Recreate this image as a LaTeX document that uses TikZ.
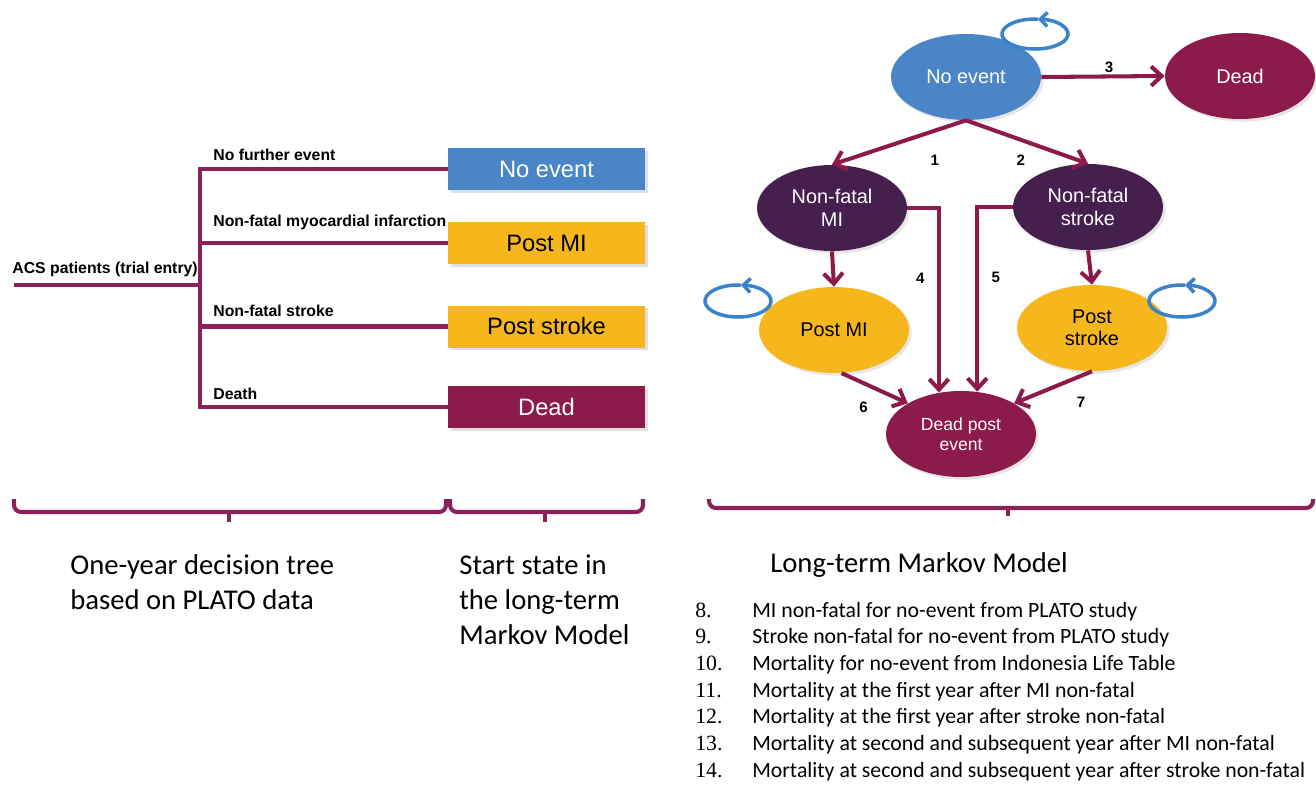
\documentclass[tikz,border=0pt]{standalone}
\usepackage{fontspec}
\setmainfont{Liberation Sans}
\newfontfamily\capfont{Carlito}
\newfontfamily\numfont{Liberation Serif}
\usetikzlibrary{arrows.meta,positioning,shapes.geometric,shadows}

\definecolor{maroon}{RGB}{140,26,75}
\definecolor{treeline}{RGB}{139,33,88}
\definecolor{stateblue}{RGB}{74,134,199}
\definecolor{stateyellow}{RGB}{245,183,28}
\definecolor{statepurple}{RGB}{69,32,79}
\definecolor{loopblue}{RGB}{59,130,200}

\tikzset{
  treeline/.style={draw=treeline, line width=2.4pt},
  startbox/.style={rectangle, minimum width=3.94cm, minimum height=0.84cm, inner sep=0pt,
    font=\fontsize{13.5}{16}\selectfont,
    drop shadow={shadow xshift=1.5pt, shadow yshift=-1.5pt, opacity=0.25}},
  branchlabel/.style={anchor=base west, inner sep=0pt, font=\bfseries\fontsize{9}{11}\selectfont},
  markovstate/.style={ellipse, minimum width=3cm, minimum height=1.72cm, inner sep=0pt, align=center,
    font=\fontsize{11.3}{12.8}\selectfont,
    drop shadow={shadow xshift=1.5pt, shadow yshift=-1.5pt, opacity=0.2}},
  arr/.style={draw=maroon, line width=2.3pt, -{Straight Barb[length=6pt,width=11pt]}},
  loopline/.style={draw=loopblue, line width=2pt, -{Straight Barb[length=4pt,width=8pt]}},
  numlabel/.style={font=\bfseries\fontsize{8.6}{9}\selectfont, inner sep=1pt},
  groupbrace/.style={draw=treeline, line width=2.3pt, rounded corners=4pt},
  captext/.style={inner sep=0pt, align=left, font=\capfont\fontsize{16.3}{20}\selectfont},
}

\begin{document}
\begin{tikzpicture}[x=0.02cm, y=-0.02cm]
    \useasboundingbox (0,0) rectangle (1316,785);

    % one-year decision tree
    \coordinate (root) at (14,285);
    \coordinate (fork) at (200,285);
    \node[startbox, fill=stateblue, text=white] (noev) at (546.5,169) {No event};
    \node[startbox, fill=stateyellow] (postmi) at (546.5,243) {Post MI};
    \node[startbox, fill=stateyellow] (poststr) at (546.5,326.5) {Post stroke};
    \node[startbox, fill=maroon, text=white] (dead) at (546.5,407) {Dead};

    \draw[treeline] (root) -- (fork);
    \draw[treeline] (noev.west) -| (fork) |- (dead.west);
    \draw[treeline] (fork |- postmi.west) -- (postmi.west);
    \draw[treeline] (fork |- poststr.west) -- (poststr.west);

    \node[branchlabel] (lblacs) at (12,273) {ACS patients (trial entry)};
    \node[branchlabel] (lblnone) at (213,160) {No further event};
    \node[branchlabel] (lblmi) at (213,226) {Non-fatal myocardial infarction};
    \node[branchlabel] (lblstr) at (213,316) {Non-fatal stroke};
    \node[branchlabel] (lbldeath) at (213,399) {Death};

    % long-term Markov model
    \node[markovstate, fill=stateblue, text=white] (mnoev) at (966,77) {No event};
    \node[markovstate, fill=maroon, text=white] (mdead) at (1240,76) {Dead};
    \node[markovstate, fill=statepurple, text=white] (mnfmi) at (832,208) {Non-fatal\\MI};
    \node[markovstate, fill=statepurple, text=white] (mnfstr) at (1088,207) {Non-fatal\\stroke};
    \node[markovstate, fill=stateyellow] (mpostmi) at (834,330) {Post MI};
    \node[markovstate, fill=stateyellow] (mpoststr) at (1092,328) {Post\\stroke};
    \node[markovstate, fill=maroon, text=white, font=\fontsize{10}{11.5}\selectfont] (mdpe) at (961,434) {Dead post\\event};

    \draw[arr] (mnoev.east) -- node[numlabel, above, pos=0.55] {3} (mdead.west);
    \draw[arr] (mnoev.south) -- node[numlabel, pos=0.3, xshift=5.2pt, yshift=-15pt] {1} (mnfmi.north);
    \draw[arr] (mnoev.south) -- node[numlabel, pos=0.45, yshift=-11.4pt] {2} (mnfstr.north);
    \draw[arr] (mnfmi.east) -| node[numlabel, pos=0.69, left=6pt] {4} (mdpe.118);
    \draw[arr] (mnfstr.west) -| node[numlabel, pos=0.69, right=6pt] {5} (mdpe.69);
    \draw[arr] (mnfmi.south) -- (mpostmi.north);
    \draw[arr] (mnfstr.south) -- (mpoststr.north);
    \draw[arr] (mpostmi.-80) -- node[numlabel, pos=0.5, xshift=-6.3pt, yshift=-11pt] {6} (mdpe.150);
    \draw[arr] (mpoststr.south) -- node[numlabel, pos=0.3, xshift=7pt, yshift=-12pt] {7} (mdpe.30);

    % staying in the same state
    \draw[loopline] (1035,34) ++(275:33 and 15) arc[start angle=275, end angle=-85, x radius=33, y radius=15];
    \draw[loopline] (738,301) ++(275:33 and 16) arc[start angle=275, end angle=-85, x radius=33, y radius=16];
    \draw[loopline] (1182,301) ++(275:33 and 16) arc[start angle=275, end angle=-85, x radius=33, y radius=16];

    % braces and captions
    \draw[groupbrace] (14,499) |- (229,512) -| (446,499);
    \draw[groupbrace] (229,512) -- (229,522);
    \draw[groupbrace] (450,499) |- (545,512) -| (643,499);
    \draw[groupbrace] (545,512) -- (545,522);
    \draw[groupbrace] (709,499) |- (1008,508) -| (1313,499);
    \draw[groupbrace] (1008,508) -- (1008,516);

    \node[captext, anchor=north west] (captree) at (70,554) {One-year decision tree\\based on PLATO data};
    \node[captext, anchor=north west] (capstart) at (459,554) {Start state in\\the long-term\\Markov Model};
    \node[captext, anchor=base west] (capmarkov) at (770,572) {Long-term Markov Model};

    \node[anchor=north west, inner sep=0pt, font=\capfont\fontsize{12.4}{15.2}\selectfont] (sources) at (695,598) {%
      \begin{tabular}{@{}p{32.4pt}@{}l@{}}
        {\numfont 8.}  & MI non-fatal for no-event from PLATO study\\
        {\numfont 9.}  & Stroke non-fatal for no-event from PLATO study\\
        {\numfont 10.} & Mortality for no-event from Indonesia Life Table\\
        {\numfont 11.} & Mortality at the first year after MI non-fatal\\
        {\numfont 12.} & Mortality at the first year after stroke non-fatal\\
        {\numfont 13.} & Mortality at second and subsequent year after MI non-fatal\\
        {\numfont 14.} & Mortality at second and subsequent year after stroke non-fatal
      \end{tabular}};
\end{tikzpicture}
\end{document}
